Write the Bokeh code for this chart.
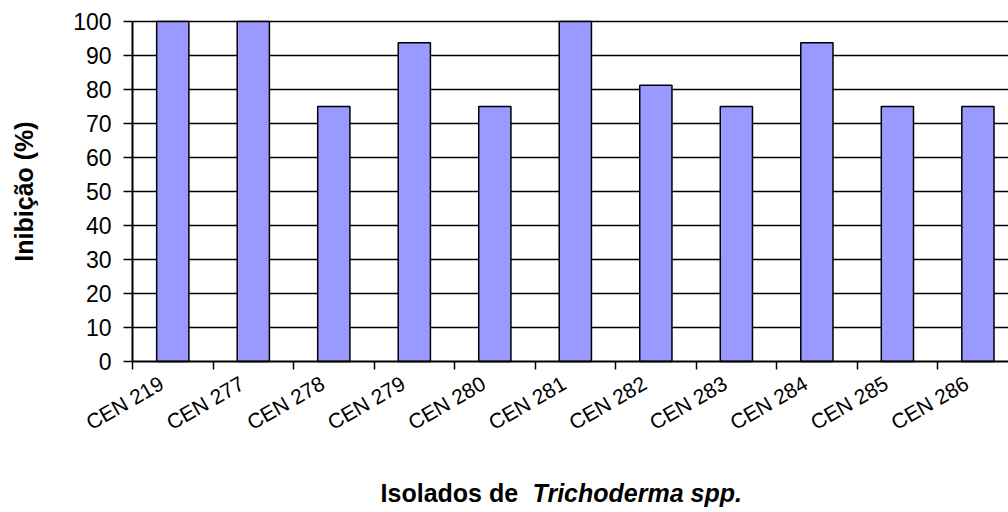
import math
from bokeh.plotting import figure
from bokeh.models import FixedTicker, Range1d, Label
from bokeh.embed import file_html
from bokeh.resources import INLINE

categories = ["CEN 219", "CEN 277", "CEN 278", "CEN 279", "CEN 280", "CEN 281",
              "CEN 282", "CEN 283", "CEN 284", "CEN 285", "CEN 286"]
inhibition = [100, 100, 75, 93.75, 75, 100, 81.25, 75, 93.75, 75, 75]
y_ticks = [0, 10, 20, 30, 40, 50, 60, 70, 80, 90, 100]

x_centers = [i + 0.5 for i in range(len(categories))]
label_pos = [c - 0.14 for c in x_centers]
x_end = 10.88

p = figure(width=1008, height=512, output_backend="svg", toolbar_location=None,
           x_range=Range1d(-1.6398, x_end), y_range=Range1d(-44.41, 106.18),
           min_border_left=0, min_border_right=0, min_border_top=0,
           min_border_bottom=0)
p.outline_line_color = None
p.background_fill_color = "white"
p.xgrid.grid_line_color = None
p.ygrid.grid_line_color = None

# horizontal gridlines limited to the plot area
grid_y = y_ticks[1:]
p.segment(x0=[0] * len(grid_y), x1=[x_end] * len(grid_y), y0=grid_y, y1=grid_y,
          line_color="black", line_width=1.5)

p.vbar(x=x_centers, top=inhibition, width=0.4, fill_color="#9999FF",
       line_color="black", line_width=1.5)

# x axis, placed at y = 0 inside the frame
p.xaxis.fixed_location = 0
p.xaxis.bounds = (0, x_end)
xt = FixedTicker(ticks=label_pos, minor_ticks=list(range(0, 12)))
p.xaxis.ticker = xt
p.xaxis.major_label_overrides = {c: lab for c, lab in zip(label_pos, categories)}
p.xaxis.major_tick_line_color = None
p.xaxis.minor_tick_line_color = "black"
p.xaxis.minor_tick_line_width = 1.5
p.xaxis.minor_tick_out = 8
p.xaxis.minor_tick_in = 0
p.xaxis.axis_line_color = "black"
p.xaxis.axis_line_width = 2
p.xaxis.major_label_orientation = math.pi / 6
p.xaxis.major_label_text_font = "Liberation Sans"
p.xaxis.major_label_text_font_size = "21px"
p.xaxis.major_label_text_color = "black"
p.xaxis.major_label_standoff = 12

# y axis, placed at x = 0 inside the frame
p.yaxis.fixed_location = 0
p.yaxis.bounds = (0, 100)
p.yaxis.ticker = FixedTicker(ticks=y_ticks, minor_ticks=[])
p.yaxis.major_tick_line_color = "black"
p.yaxis.major_tick_line_width = 1.5
p.yaxis.major_tick_out = 9
p.yaxis.major_tick_in = 0
p.yaxis.axis_line_color = "black"
p.yaxis.axis_line_width = 2
p.yaxis.major_label_text_font = "Liberation Sans"
p.yaxis.major_label_text_font_size = "23px"
p.yaxis.major_label_text_color = "black"
p.yaxis.major_label_standoff = 12
p.yaxis.axis_label = "Inibição (%)"
p.yaxis.axis_label_text_font = "Liberation Sans"
p.yaxis.axis_label_text_font_style = "bold"
p.yaxis.axis_label_text_font_size = "25px"
p.yaxis.axis_label_text_color = "black"
p.yaxis.axis_label_standoff = 32

# x axis title with mixed styles
p.add_layout(Label(x=3.081, y=-38.8, text="Isolados de ",
                   text_font="Liberation Sans", text_font_style="bold",
                   text_font_size="25px", text_color="black",
                   text_baseline="middle"))
p.add_layout(Label(x=4.969, y=-38.8, text="Trichoderma spp.", text_font="Liberation Sans",
                   text_font_style="bold italic", text_font_size="25px", text_color="black",
                   text_baseline="middle"))

open("out.html", "w").write(file_html(p, INLINE))
